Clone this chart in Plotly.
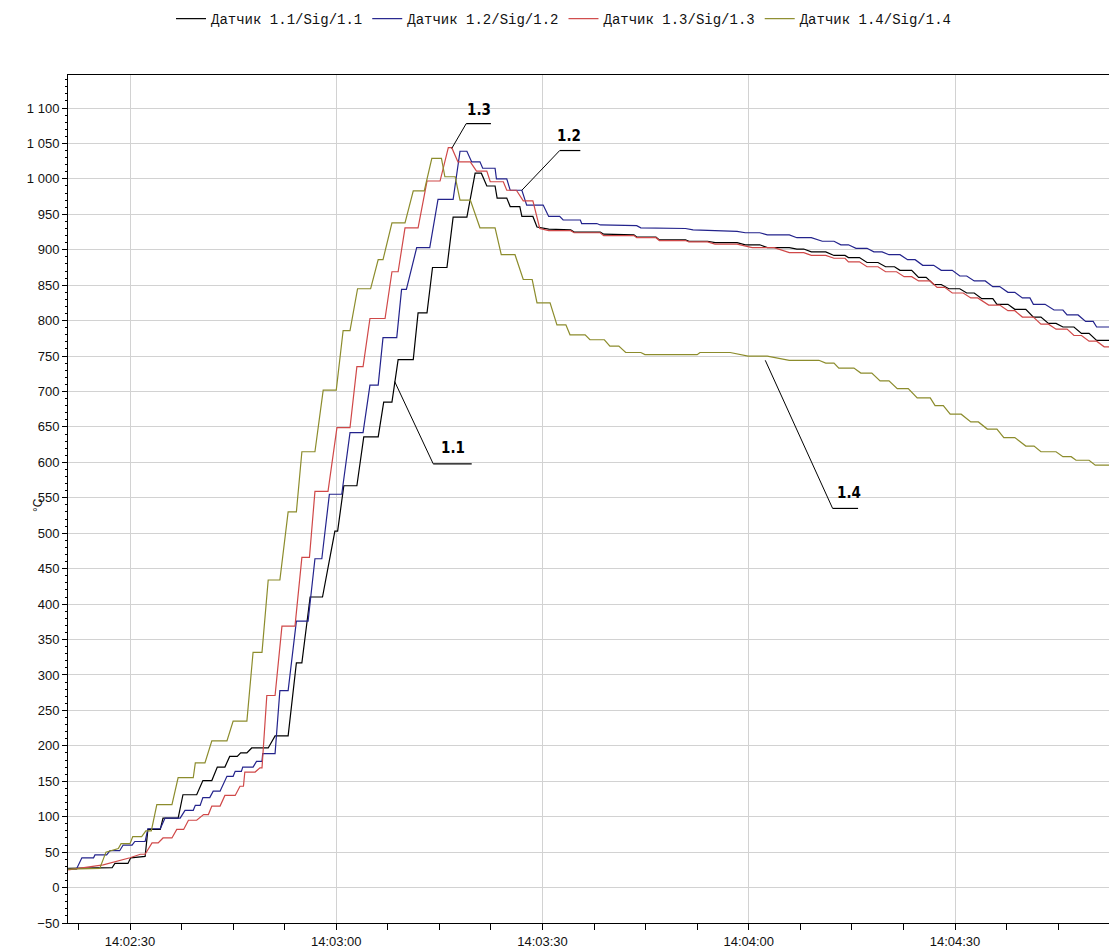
import plotly.graph_objects as go
from datetime import datetime, timedelta

# ---- data: seconds after 14:02:00, temperature in °C ----
t_11 = [21.0, 27.4, 27.8, 29.7, 30.1, 32.2, 32.6, 34.4, 34.8, 37.0, 37.7, 39.7, 40.6, 41.9, 42.7, 43.8,
        44.5, 45.6, 46.1, 47.0, 47.7, 50.1, 51.1, 53.0, 54.2, 55.0, 56.2, 58.0, 59.8, 60.2, 61.1, 63.0,
        64.0, 66.1, 66.9, 68.1, 69.0, 71.2, 71.9, 73.2, 74.0, 76.1, 77.0, 79.0, 80.2, 81.1, 81.9, 83.1,
        83.4, 84.8, 85.3, 86.7, 87.0, 88.6, 89.2, 90.9, 94.1, 94.6, 98.4, 98.9, 103.3, 103.7, 106.5,
        107.0, 110.8, 111.3, 114.0, 115.1, 118.3, 119.5, 121.6, 122.7, 125.9, 127.0, 128.0, 129.1,
        131.2, 132.4, 134.0, 134.5, 136.1, 137.2, 138.8, 139.9, 141.2, 142.0, 143.7, 144.7, 145.8,
        146.9, 148.0, 149.1, 150.7, 151.7, 152.8, 153.9, 155.5, 156.1, 157.7, 158.7, 160.3, 161.4,
        162.5, 163.6, 164.7, 165.7, 167.3, 168.4, 169.5, 170.6, 172.6]
v_11 = [27, 28, 34, 34, 42, 44, 82, 82, 98, 98, 131, 131, 151, 151, 170, 170,
        185, 185, 190, 190, 197, 197, 214, 214, 317, 317, 410, 410, 503, 503, 567, 567,
        636, 636, 685, 685, 745, 745, 811, 811, 875, 875, 946, 946, 1008, 1008, 990, 990,
        973, 973, 961, 961, 947, 947, 932, 929, 928, 925, 925, 922, 921, 918, 918,
        914, 914, 912, 912, 910, 910, 907, 907, 903, 903, 901, 901, 897,
        897, 892, 892, 889, 889, 882, 882, 876, 876, 871, 871, 861, 861,
        851, 851, 845, 845, 839, 839, 831, 831, 823, 823, 816, 816, 805,
        805, 796, 796, 791, 791, 782, 782, 772, 772]

t_12 = [21.0, 22.2, 23.0, 24.7, 24.9, 26.6, 27.1, 28.5, 29.0, 30.3, 30.7, 32.2, 32.6, 34.4, 35.1, 37.3,
        38.0, 39.2, 39.5, 40.2, 40.6, 41.6, 42.1, 43.1, 44.1, 45.0, 45.3, 46.2, 46.4, 47.9, 48.4, 49.2,
        49.3, 51.1, 51.8, 53.0, 54.2, 55.9, 56.9, 57.9, 59.0, 60.8, 62.0, 63.9, 64.9, 66.1, 66.8, 68.8,
        69.5, 70.2, 71.7, 73.6, 74.8, 77.0, 78.0, 79.0, 79.7, 80.9, 81.3, 83.1, 83.3, 84.8, 85.3, 87.0,
        87.7, 90.1, 90.9, 92.5, 93.0, 95.5, 95.7, 97.9, 98.4, 103.7, 104.3, 110.8, 111.9, 118.3, 119.5,
        121.6, 122.7, 125.9, 127.0, 129.1, 130.7, 132.4, 133.4, 134.5, 135.6, 137.2, 138.2, 139.4,
        140.4, 142.0, 143.1, 144.2, 145.3, 146.9, 148.0, 149.6, 150.7, 151.7, 152.8, 154.4, 155.5,
        156.5, 157.7, 158.7, 159.8, 160.9, 161.4, 163.1, 164.4, 165.7, 166.3, 167.9, 169.0, 170.1,
        170.6, 172.6]
v_12 = [26, 26, 42, 42, 46, 46, 52, 52, 60, 60, 65, 65, 83, 83, 98, 98,
        109, 109, 116, 116, 127, 127, 136, 136, 157, 157, 164, 164, 170, 170, 178, 178,
        189, 189, 278, 278, 376, 376, 464, 464, 555, 555, 642, 642, 709, 709, 776, 776,
        844, 844, 903, 903, 971, 971, 1039, 1039, 1024, 1024, 1015, 1015, 1000, 1000, 984, 984,
        963, 963, 947, 947, 942, 942, 937, 937, 935, 934, 931, 930, 928, 926, 924,
        924, 921, 921, 917, 917, 912, 912, 907, 907, 902, 902, 897, 897,
        893, 893, 886, 886, 878, 878, 871, 871, 863, 863, 856, 856, 848,
        848, 840, 840, 832, 832, 823, 823, 815, 815, 808, 808, 799, 799,
        791, 791]

t_13 = [21.0, 26.1, 30.0, 31.5, 32.2, 33.2, 34.1, 34.8, 36.1, 36.8, 37.8, 38.5, 39.7, 40.7, 41.4, 41.9,
        43.1, 43.8, 45.3, 46.0, 46.5, 46.7, 48.2, 48.9, 49.2, 49.9, 51.1, 52.1, 54.0, 55.0, 56.1, 56.9,
        58.8, 60.1, 62.0, 63.0, 63.9, 64.9, 67.1, 68.1, 69.0, 70.0, 71.9, 73.2, 75.1, 76.3, 76.8, 77.7,
        79.5, 80.4, 81.9, 82.4, 84.3, 84.8, 86.2, 87.2, 88.6, 89.6, 90.9, 94.1, 94.6, 98.4, 98.9, 103.3,
        103.7, 106.5, 107.0, 110.8, 111.3, 114.0, 115.1, 118.3, 120.5, 123.7, 125.9, 128.0, 129.1,
        131.2, 132.4, 134.0, 134.5, 136.1, 137.2, 138.8, 139.9, 141.5, 142.6, 143.7, 144.7, 146.4,
        147.4, 148.5, 149.6, 151.2, 152.3, 153.3, 154.9, 156.5, 157.7, 158.7, 159.8, 161.4, 162.5,
        163.6, 164.7, 166.3, 167.3, 168.4, 169.5, 170.6, 171.7, 172.6]
v_13 = [25, 32, 42, 47, 47, 63, 63, 70, 70, 82, 82, 95, 95, 103, 103, 115,
        115, 130, 130, 143, 143, 163, 163, 169, 169, 271, 271, 369, 369, 466, 466, 559,
        559, 649, 649, 735, 735, 803, 803, 869, 869, 931, 931, 997, 997, 1044, 1044, 1024,
        1024, 1011, 1011, 996, 996, 984, 984, 969, 969, 930, 927, 927, 924, 924, 920, 920,
        917, 917, 913, 913, 911, 911, 908, 908, 903, 903, 896, 896, 892,
        892, 888, 888, 883, 883, 876, 876, 869, 869, 862, 862, 856, 856,
        847, 847, 839, 839, 832, 832, 822, 822, 814, 814, 805, 805, 795,
        795, 788, 788, 779, 779, 771, 771, 763, 763]

t_14 = [21.0, 25.6, 26.5, 28.3, 28.7, 30.0, 30.4, 31.7, 32.3, 33.1, 33.9, 36.1, 37.0, 39.2, 39.5, 40.9,
        41.9, 44.1, 45.0, 47.0, 47.9, 49.2, 50.1, 51.8, 53.0, 54.2, 55.0, 56.9, 58.1, 60.0, 61.0, 62.0,
        63.1, 65.0, 66.1, 66.8, 68.1, 70.0, 71.2, 72.8, 73.9, 75.3, 75.8, 77.3, 78.0, 79.5, 80.9, 83.1,
        84.0, 86.0, 87.2, 88.5, 89.2, 91.1, 92.1, 93.4, 94.0, 96.2, 96.9, 99.0, 99.8, 101.1, 102.1,
        104.3, 104.9, 112.5, 112.9, 117.3, 119.9, 122.7, 125.9, 130.2, 131.2, 132.4, 133.1, 135.3,
        136.3, 137.9, 139.1, 140.4, 141.6, 143.2, 144.5, 146.4, 147.1, 148.3, 149.3, 150.9, 152.3,
        153.4, 154.7, 156.1, 157.1, 158.7, 160.3, 161.5, 162.5, 164.7, 165.7, 166.9, 167.6, 169.5,
        170.4, 172.7]
v_14 = [26, 27, 50, 55, 62, 62, 72, 72, 80, 80, 117, 117, 155, 155, 176, 176,
        207, 207, 235, 235, 332, 332, 434, 434, 530, 530, 615, 615, 702, 702, 786, 786,
        845, 845, 886, 886, 938, 938, 983, 983, 1029, 1029, 1003, 1003, 970, 970, 931, 931,
        893, 893, 858, 858, 825, 825, 794, 794, 780, 780, 773, 773, 764, 764, 755,
        755, 752, 752, 755, 755, 750, 750, 744, 744, 740, 740, 733, 733,
        726, 726, 715, 715, 704, 704, 691, 691, 680, 680, 668, 668, 657,
        657, 647, 647, 635, 635, 623, 623, 615, 615, 608, 608, 603, 603,
        596, 596]

series_names = ["Датчик 1.1/Sig/1.1", "Датчик 1.2/Sig/1.2", "Датчик 1.3/Sig/1.3", "Датчик 1.4/Sig/1.4"]
series_colors = ["#000000", "#23238c", "#d04848", "#8c8c2c"]

# callout labels: text, (label t, v), underline t0..t1 at v, leader tip (t, v)
label_text = ["1.1", "1.2", "1.3", "1.4"]
label_pos = [(77.0, 620), (93.8, 1060), (80.8, 1097), (134.6, 557)]
underline_t = [(74.1, 79.7), (92.5, 95.5), (78.9, 82.5), (132.2, 135.9)]
underline_v = [598, 1040, 1078, 535]
leader_tip = [(68.5, 714), (87.0, 984), (76.8, 1043), (122.4, 744)]

base = datetime(2024, 1, 1, 14, 2, 0)


def ts(s):
    return (base + timedelta(seconds=s)).strftime("%Y-%m-%d %H:%M:%S.%f")


fig = go.Figure()
for tt, vv, nm, col in zip([t_11, t_12, t_13, t_14], [v_11, v_12, v_13, v_14], series_names, series_colors):
    fig.add_trace(go.Scatter(x=[ts(s) for s in tt], y=vv, name=nm, mode="lines",
                             line=dict(color=col, width=1.2), hoverinfo="skip"))

for txt, (lt, lv), (u0, u1), uv, (pt, pv) in zip(label_text, label_pos, underline_t, underline_v, leader_tip):
    fig.add_shape(type="line", xref="x", yref="y", x0=ts(u0), x1=ts(u1), y0=uv, y1=uv,
                  line=dict(color="black", width=1.2))
    fig.add_shape(type="line", xref="x", yref="y", x0=ts(u0), x1=ts(pt), y0=uv, y1=pv,
                  line=dict(color="black", width=1))
    fig.add_annotation(x=ts(lt), y=lv, text="<b>%s</b>" % txt, showarrow=False, xref="x", yref="y",
                       font=dict(family="Liberation Sans Narrow, DejaVu Sans Condensed, Liberation Sans, Arial",
                                 size=15, color="black"))

# y-axis unit label
fig.add_annotation(x=-30 / 1041, y=0.493, xref="paper", yref="paper", text="°C", showarrow=False,
                   textangle=-90, font=dict(size=12, color="#111111"), xanchor="center", yanchor="middle")

fig.update_layout(
    width=1109, height=949,
    margin=dict(l=68, r=0, t=75, b=26),
    paper_bgcolor="white", plot_bgcolor="white",
    separators=". ",
    font=dict(family="Liberation Sans, Arial, sans-serif", size=12, color="#111111"),
    showlegend=True,
    legend=dict(orientation="h", x=0.476, xanchor="center", y=1.066, yanchor="middle",
                font=dict(family="Liberation Mono, Courier New, monospace", size=14, color="#111111"),
                itemwidth=30, tracegroupgap=0, bgcolor="rgba(0,0,0,0)"),
)
fig.update_xaxes(
    type="date", range=[ts(20.98), ts(172.4)], automargin=False,
    tick0=ts(30), dtick=30000, tickformat="%H:%M:%S",
    ticks="outside", ticklen=6, tickcolor="black",
    showline=True, linecolor="black", linewidth=1, mirror=True,
    showgrid=True, gridcolor="#d2d2d2", gridwidth=1, zeroline=False,
    minor=dict(dtick=7500, tick0=ts(30), ticks="outside", ticklen=6, tickcolor="black", showgrid=False),
    tickfont=dict(size=13, color="#111111"),
)
fig.update_yaxes(
    range=[-50, 1146.6], tick0=0, dtick=50, separatethousands=True, automargin=False,
    ticks="outside", ticklen=5, tickcolor="black",
    showline=True, linecolor="black", linewidth=1,
    showgrid=True, gridcolor="#d2d2d2", gridwidth=1, zeroline=False,
    minor=dict(dtick=10, ticks="outside", ticklen=2, tickcolor="black", showgrid=False),
    tickfont=dict(size=13, color="#111111"),
)

fig.write_html("out.html", config={"displayModeBar": False},
               post_script="document.body.style.margin='0px';document.body.style.overflow='hidden';")
